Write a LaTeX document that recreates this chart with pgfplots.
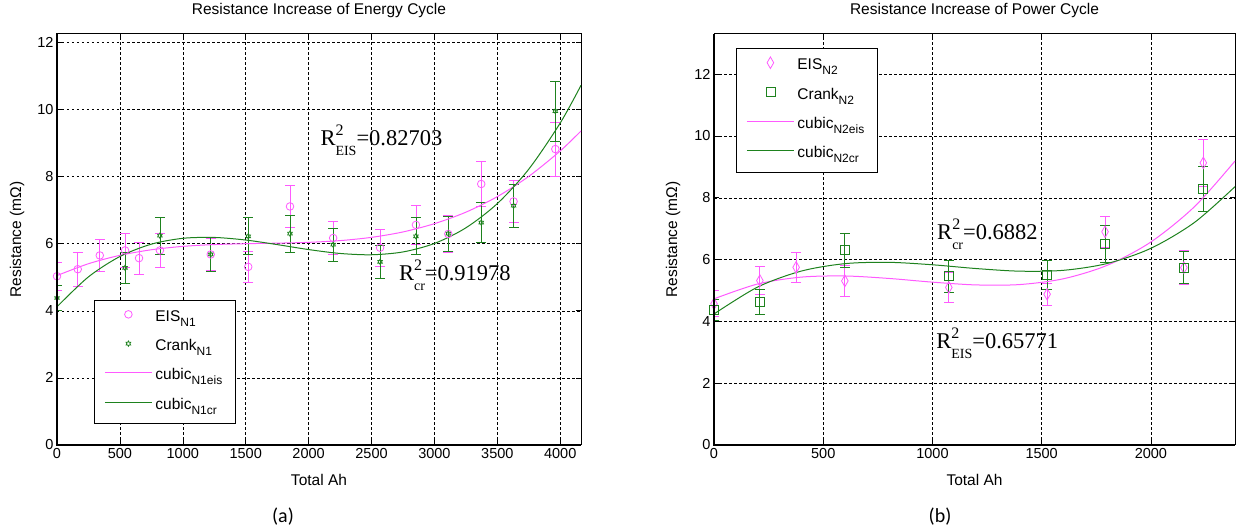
\documentclass[border=0pt]{standalone}
\usepackage{fontspec}
\setmainfont{Liberation Sans}
\newfontfamily\timesf{Liberation Serif}
\newfontfamily\capf{Carlito}
\usepackage{pgfplots}
\usepackage{pgfplotstable}
\pgfplotsset{compat=1.18}

\definecolor{eiscol}{RGB}{255,90,255}
\definecolor{crcol}{RGB}{30,130,30}

% six-pointed star outline
\pgfdeclareplotmark{hexagram}{%
  \pgfpathmoveto{\pgfpointpolar{90}{\pgfplotmarksize}}%
  \pgfpathlineto{\pgfpointpolar{120}{0.577\pgfplotmarksize}}%
  \pgfpathlineto{\pgfpointpolar{150}{\pgfplotmarksize}}%
  \pgfpathlineto{\pgfpointpolar{180}{0.577\pgfplotmarksize}}%
  \pgfpathlineto{\pgfpointpolar{210}{\pgfplotmarksize}}%
  \pgfpathlineto{\pgfpointpolar{240}{0.577\pgfplotmarksize}}%
  \pgfpathlineto{\pgfpointpolar{270}{\pgfplotmarksize}}%
  \pgfpathlineto{\pgfpointpolar{300}{0.577\pgfplotmarksize}}%
  \pgfpathlineto{\pgfpointpolar{330}{\pgfplotmarksize}}%
  \pgfpathlineto{\pgfpointpolar{0}{0.577\pgfplotmarksize}}%
  \pgfpathlineto{\pgfpointpolar{30}{\pgfplotmarksize}}%
  \pgfpathlineto{\pgfpointpolar{60}{0.577\pgfplotmarksize}}%
  \pgfpathclose
  \pgfusepathqstroke}

\newcommand{\sub}[1]{\raisebox{-5pt}{\fontsize{12}{12}\selectfont #1}}
\newcommand{\Rsq}[2]{{\timesf\fontsize{22.5}{22.5}\selectfont R\rlap{\raisebox{10pt}{\fontsize{16}{16}\selectfont 2}}\raisebox{-10pt}{\fontsize{14}{14}\selectfont #1}=#2}}

% ---------- Energy cycle (N1) ----------
\pgfplotstableread{
x y e
0    5.03 0.42
165  5.24 0.50
340  5.65 0.48
541  5.80 0.50
652  5.57 0.48
818  5.80 0.52
1222 5.68 0.48
1520 5.31 0.45
1852 7.11 0.62
2195 6.17 0.50
2568 5.88 0.55
2853 6.56 0.58
3110 6.29 0.55
3372 7.78 0.68
3629 7.26 0.62
3961 8.82 0.80
}\eisA
\pgfplotstableread{
x y e
0    4.38 0.38
541  5.28 0.46
818  6.24 0.55
1222 5.68 0.50
1520 6.22 0.55
1852 6.30 0.55
2195 5.97 0.50
2568 5.46 0.50
2853 6.22 0.55
3110 6.30 0.52
3372 6.63 0.60
3629 7.13 0.65
3961 9.95 0.90
}\crA
\pgfplotstableread{
x y
0    5.050
250  5.403
500  5.653
750  5.819
1000 5.920
1250 5.974
1500 6.000
1750 6.016
2000 6.040
2250 6.092
2500 6.189
2750 6.350
3000 6.597
3250 6.939
3500 7.403
3750 8.007
4000 8.765
4165 9.360
}\fitEisA
\pgfplotstableread{
x y
0    4.120
250  5.011
500  5.618
750  5.986
1000 6.160
1250 6.186
1500 6.109
1750 5.973
2000 5.825
2250 5.709
2500 5.670
2750 5.754
3000 6.007
3250 6.473
3500 7.196
3750 8.222
4000 9.598
4165 10.720
}\fitCrA

% ---------- Power cycle (N2) ----------
\pgfplotstableread{
x y e
0    4.57 0.42
210  5.32 0.45
376  5.75 0.48
599  5.31 0.50
1075 5.10 0.50
1525 4.88 0.35
1790 6.90 0.50
2151 5.74 0.55
2240 9.13 0.76
}\eisB
\pgfplotstableread{
x y e
0    4.37 0.35
210  4.63 0.42
599  6.30 0.55
1075 5.46 0.52
1525 5.51 0.47
1790 6.50 0.60
2151 5.74 0.52
2240 8.30 0.73
}\crB
\pgfplotstableread{
x y
0    4.730
200  5.211
400  5.433
600  5.469
800  5.390
1000 5.270
1200 5.180
1400 5.192
1600 5.380
1800 5.815
2000 6.570
2200 7.716
2385 9.190
}\fitEisB
\pgfplotstableread{
x y
0    4.240
200  5.112
400  5.629
600  5.869
800  5.911
1000 5.832
1200 5.710
1400 5.625
1600 5.653
1800 5.874
2000 6.365
2200 7.205
2385 8.360
}\fitCrB

\pgfplotsset{
  panel/.style={
    scale only axis, height=411pt, xmin=0, ymin=0,
    ytick={0,2,...,12},
    grid=major,
    major grid style={black, line width=0.5pt, dash pattern=on 2.5pt off 2.5pt},
    axis line style={black, line width=1pt},
    major tick length=5pt,
    tick style={black, line width=0.6pt},
    ticklabel style={font=\fontsize{14.5}{14.5}\selectfont},
    /pgf/number format/assume math mode=true,
    /pgf/number format/1000 sep={},
    title style={font=\fontsize{15.5}{15.5}\selectfont, anchor=center},
    label style={font=\fontsize{15.5}{15.5}\selectfont},
    xlabel={Total Ah},
    ylabel={Resistance (mΩ)},
    legend cell align=left,
    legend style={font=\fontsize{15.5}{15.5}\selectfont, draw=black, line width=0.8pt,
      inner xsep=10pt, inner ysep=3.2pt, row sep=0pt,
      nodes={inner xsep=3pt, inner ysep=0pt, text height=18.15pt, text depth=11.15pt}},
    legend image code/.code={%
      \draw[mark repeat=2, mark phase=2, ##1]
        plot coordinates {(0pt,3.5pt) (23.5pt,3.5pt) (47pt,3.5pt)};},
    % heavier left and bottom axis lines
    after end axis/.code={%
      \draw[black, line width=1.8pt] (rel axis cs:0,1) -- (rel axis cs:0,0) -- (rel axis cs:1,0);},
  },
  ebar/.style={error bars/.cd, y dir=both, y explicit, error mark=-,
    error bar style={line width=0.8pt},
    error mark options={rotate=90, mark size=5pt, line width=0.8pt}},
}

\begin{document}
\begin{tikzpicture}
\path[use as bounding box] (-57pt,-87pt) rectangle (1179pt,445pt);

% (a) energy cycle
\begin{axis}[panel, at={(0pt,0pt)}, anchor=south west, width=524pt,
  xmax=4165, ymax=12.25, xtick={0,500,...,4000},
  title={Resistance Increase of Energy Cycle},
  title style={at={(axis description cs:0.5,1.0414)}},
  xlabel style={at={(axis description cs:0.5,-0.0845)}, anchor=center},
  ylabel style={at={(axis description cs:-0.0763,0.5)}, anchor=center},
  legend style={at={(axis description cs:0.0706,0.0511)}, anchor=south west}]
\addplot[only marks, color=eiscol, mark=o, mark size=3.8pt,
  mark options={line width=0.8pt}, ebar]
  table[x=x, y=y, y error=e] {\eisA};
\addlegendentry{EIS\sub{N1}}
\addplot[only marks, color=crcol, mark=hexagram, mark size=2.6pt,
  mark options={line width=0.8pt}, ebar]
  table[x=x, y=y, y error=e] {\crA};
\addlegendentry{Crank\sub{N1}}
\addplot[color=eiscol, line width=1pt, smooth, no marks] table[x=x, y=y] {\fitEisA};
\addlegendentry{cubic\sub{N1eis}}
\addplot[color=crcol, line width=1pt, smooth, no marks] table[x=x, y=y] {\fitCrA};
\addlegendentry{cubic\sub{N1cr}}
\node[anchor=base west, inner sep=0pt] at (axis cs:2093,8.94) {\Rsq{EIS}{0.82703}};
\node[anchor=base west, inner sep=0pt] at (axis cs:2717,4.91) {\Rsq{cr}{0.91978}};
\end{axis}

% (b) power cycle
\begin{axis}[panel, at={(657pt,0pt)}, anchor=south west, width=521pt,
  xmax=2385, ymax=13.3, xtick={0,500,...,2000},
  title={Resistance Increase of Power Cycle},
  title style={at={(axis description cs:0.5,1.0414)}},
  xlabel style={at={(axis description cs:0.5,-0.0845)}, anchor=center},
  ylabel style={at={(axis description cs:-0.0787,0.5)}, anchor=center},
  legend style={at={(axis description cs:0.0422,0.966)}, anchor=north west}]
\addplot[only marks, color=eiscol, mark=diamond, mark size=5.8pt,
  mark options={line width=0.8pt, xscale=0.76}, ebar]
  table[x=x, y=y, y error=e] {\eisB};
\addlegendentry{EIS\sub{N2}}
\addplot[only marks, color=crcol, mark=square, mark size=4.5pt,
  mark options={line width=0.8pt}, ebar]
  table[x=x, y=y, y error=e] {\crB};
\addlegendentry{Crank\sub{N2}}
\addplot[color=eiscol, line width=1pt, smooth, no marks] table[x=x, y=y] {\fitEisB};
\addlegendentry{cubic\sub{N2eis}}
\addplot[color=crcol, line width=1pt, smooth, no marks] table[x=x, y=y] {\fitCrB};
\addlegendentry{cubic\sub{N2cr}}
\node[anchor=base west, inner sep=0pt] at (axis cs:1021,6.66) {\Rsq{cr}{0.6882}};
\node[anchor=base west, inner sep=0pt] at (axis cs:1017,3.12) {\Rsq{EIS}{0.65771}};
\end{axis}

\node[font=\capf\fontsize{20}{20}\selectfont] at (226pt,-72pt) {(a)};
\node[font=\capf\fontsize{20}{20}\selectfont] at (883pt,-72pt) {(b)};
\end{tikzpicture}
\end{document}
